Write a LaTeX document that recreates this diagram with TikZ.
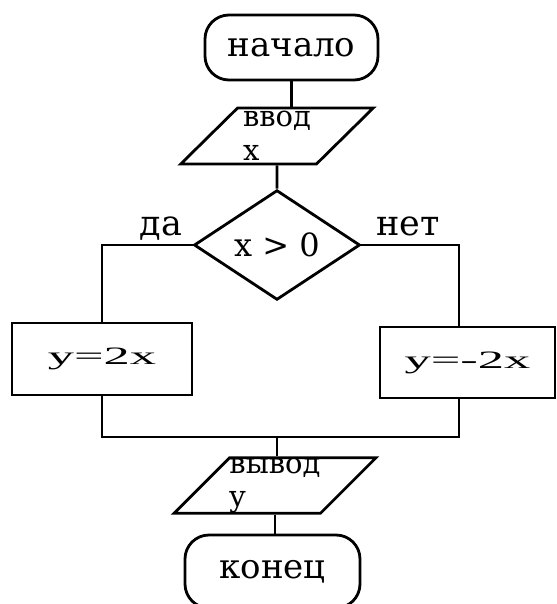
\documentclass[tikz,border=0pt]{standalone}
\usepackage{fontspec}
\newfontfamily\slabfont{DejaVu Serif}
\newfontfamily\wideserif[FakeStretch=2.1]{Liberation Serif}
\usetikzlibrary{shapes.geometric}

\begin{document}
\begin{tikzpicture}
        [x=1pt, y=-1pt, line width=2.8pt,
        every node/.style={inner sep=0pt},
        term/.style={draw, rounded corners=24pt, font=\slabfont\fontsize{34}{34}\selectfont},
        inout/.style={draw, trapezium, trapezium left angle=45, trapezium right angle=135,
          trapezium stretches=true, minimum width=193pt, minimum height=56pt,
          align=left, font=\slabfont\fontsize{29}{33.5}\selectfont},
        cond/.style={draw, diamond, minimum width=166pt, minimum height=96pt,
          font=\slabfont\fontsize{32}{32}\selectfont},
        assign/.style={draw, rectangle, font=\wideserif\fontsize{25}{25}\selectfont},
        answer/.style={anchor=base, font=\slabfont\fontsize{35}{35}\selectfont}]

    \useasboundingbox (0,0) rectangle (556,604);

    \node[term, minimum width=173pt, minimum height=65pt] (start) at (291.5,47.5) {начало};
    \node[inout] (input) at (277,136) {ввод\\x};
    \node[cond] (test) at (277,245) {x > 0};
    \node[answer] (yes) at (161,235) {да};
    \node[answer] (no) at (408,235) {нет};
    \node[assign, minimum width=180pt, minimum height=72pt] (pos) at (102,359) {y=2x};
    \node[assign, minimum width=175pt, minimum height=71pt] (neg) at (467.5,362.5) {y=-2x};
    \node[inout, minimum width=192pt, minimum height=55pt] (output) at (275,485.5) {вывод\\y};
    \node[term, minimum width=175pt, minimum height=73pt] (stop) at (272.5,571.5) {конец};

    \coordinate (negtop) at ([xshift=-8.5pt]neg.north);
    \coordinate (negbot) at ([xshift=-8.5pt]neg.south);
    \coordinate (join) at (277,437);

    \draw (start) -- (start |- input.north);
    \draw (input.south) -- (test.north);
    \draw (test.west) -| (pos.north);
    \draw (test.east) -| (negtop);
    \draw (pos.south) |- (join) -| (negbot);
    \draw (join) -- (join |- output.north);
    \draw (output.south) -- (output.south |- stop.north);
\end{tikzpicture}
\end{document}
